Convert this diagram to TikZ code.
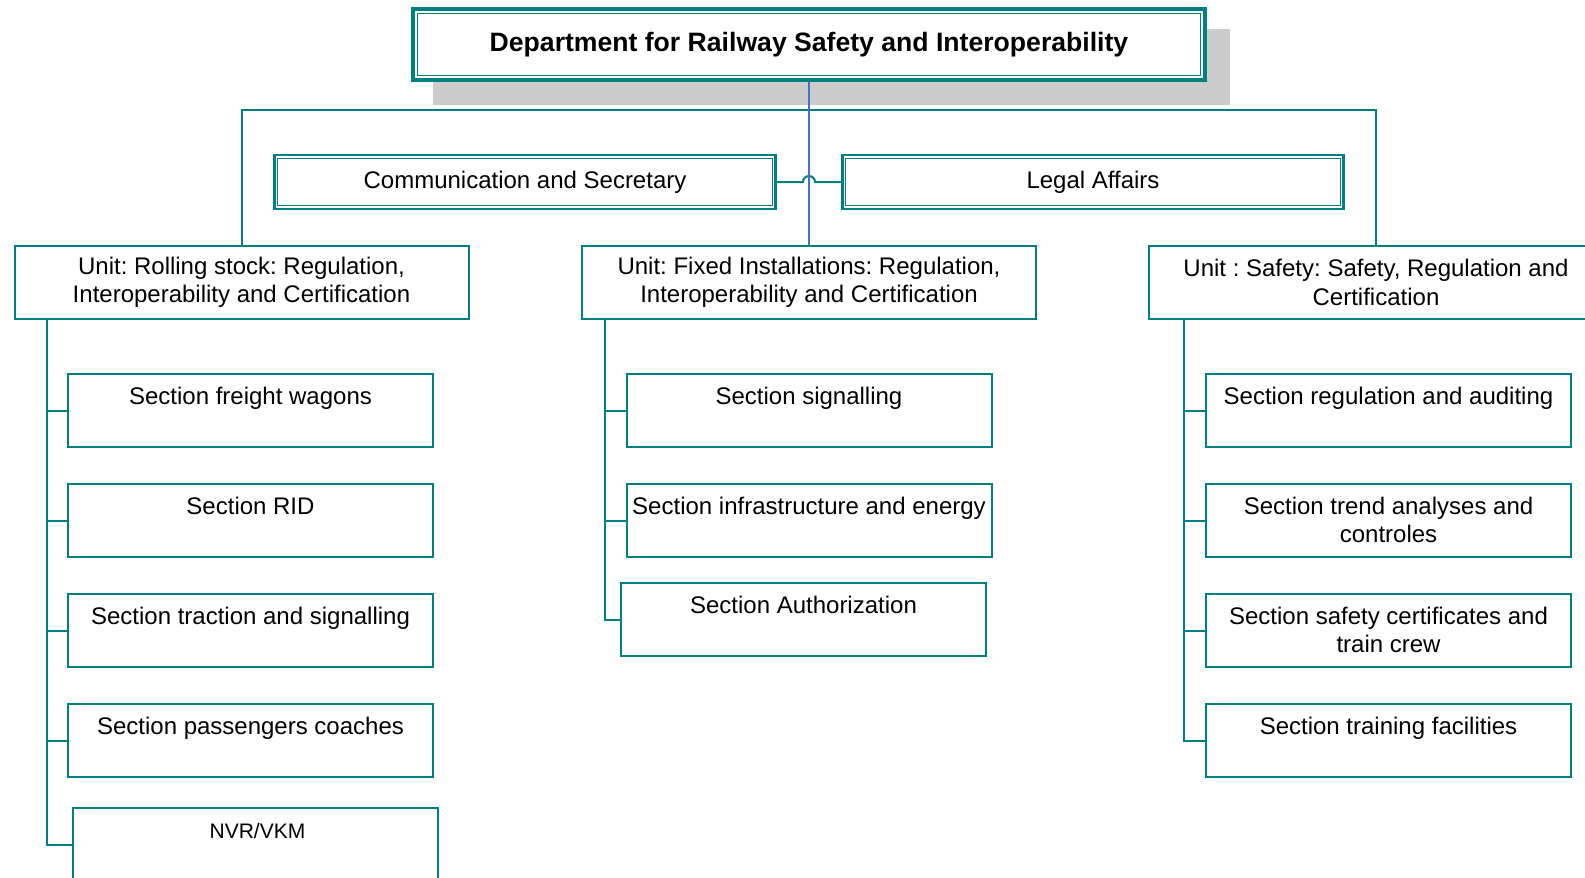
\documentclass[tikz,border=0pt]{standalone}
\usepackage{fontspec}
\setmainfont{Liberation Sans}
\usetikzlibrary{positioning,calc}
\definecolor{linkblue}{RGB}{68,114,196}
\frenchspacing

\begin{document}
\begin{tikzpicture}[x=0.5pt,y=-0.5pt,
    box/.style={draw=teal,line width=1pt,fill=white,inner sep=0pt},
    unit/.style={box,minimum width=227pt,minimum height=36.5pt,align=center,font=\fontsize{12}{14.2}\selectfont},
    sec/.style={box,minimum width=182.5pt,minimum height=36.5pt},
    sectext/.style={anchor=north,inner sep=0pt,yshift=-6.8pt,align=center,font=\fontsize{12}{14.2}\selectfont},
    staff/.style={draw=teal,line width=1.2pt,fill=white,minimum width=250.5pt,minimum height=27pt,font=\fontsize{12}{14}\selectfont},
    link/.style={teal,line width=1pt}]
    \useasboundingbox (0,0) rectangle (1585,878);
    % Department
    \fill[gray!40] (433,29) rectangle (1230,105);
    \node[draw=teal,line width=2pt,fill=white,minimum width=396pt,minimum height=35.5pt,font=\bfseries\fontsize{13.3}{16}\selectfont] (dept) at (809,44.5) {\raisebox{-1pt}{Department for Railway Safety and Interoperability}};
    \draw[teal,line width=0.8pt] ([shift={(6.5,6.5)}]dept.north west) rectangle ([shift={(-6.5,-6.5)}]dept.south east);
    % Staff
    \node[staff] (comm) at (525,182) {Communication and Secretary};
    \node[staff] (legal) at (1093,182) {Legal Affairs};
    \draw[teal,line width=0.6pt] ([shift={(4.5,4.5)}]comm.north west) rectangle ([shift={(-4.5,-4.5)}]comm.south east);
    \draw[teal,line width=0.6pt] ([shift={(4.5,4.5)}]legal.north west) rectangle ([shift={(-4.5,-4.5)}]legal.south east);
    % Units
    \node[unit] (rolling) at (241.5,282.5) {Unit: Rolling stock: Regulation,\\Interoperability and Certification};
    \node[unit] (fixed) at (809,282.5) {Unit: Fixed Installations: Regulation,\\Interoperability and Certification};
    \node[unit] (safety) at (1376,282.5) {Unit : Safety: Safety, Regulation and\\Certification};
    % Top links
    \coordinate (bar) at (809,110);
    \coordinate (hop) at (803,182);
    \draw[link] (rolling.north) |- (bar) -| (safety.north);
    \draw[link] (comm.east) -- (hop) arc[start angle=180,end angle=0,radius=3pt] -- (legal.west);
    \draw[linkblue,line width=1pt] (dept.south) -- (fixed.north);
    % Spines
    \coordinate (lspine) at (47,319);
    \coordinate (mspine) at (605,319);
    \coordinate (rspine) at (1184,319);
    % Rolling stock sections
    \foreach \n/\y/\t in {rs1/410.5/{Section freight wagons},rs2/520.5/{Section RID},rs3/630.5/{Section traction and signalling},rs4/740.5/{Section passengers coaches}} {
        \node[sec] (\n) at (250.5,\y) {};
        \node[sectext] (t\n) at (\n.north) {\t};
        \draw[link] (\n.west -| lspine) -- (\n.west);
    }
    \node[sec] (nvr) at (255.5,844.5) {};
    \node[sectext,yshift=-1pt,xshift=1pt,font=\fontsize{10.5}{12}\selectfont] (tnvr) at (nvr.north) {NVR/VKM};
    \draw[link] (rolling.south -| lspine) |- (nvr.west);
    % Fixed installations sections
    \foreach \n/\y/\t in {fi1/410.5/{Section signalling},fi2/520.5/{Section infrastructure and energy}} {
        \node[sec] (\n) at (809,\y) {};
        \node[sectext] (t\n) at (\n.north) {\t};
        \draw[link] (\n.west -| mspine) -- (\n.west);
    }
    \node[sec] (auth) at (803.5,619.5) {};
    \node[sectext] (tauth) at (auth.north) {Section Authorization};
    \draw[link] (fixed.south -| mspine) |- (auth.west);
    % Safety sections
    \foreach \n/\y/\t in {sa1/410.5/{Section regulation and auditing},sa2/520.5/{Section trend analyses and\\controles},sa3/630.5/{Section safety certificates and\\train crew}} {
        \node[sec] (\n) at (1388.5,\y) {};
        \node[sectext] (t\n) at (\n.north) {\t};
        \draw[link] (\n.west -| rspine) -- (\n.west);
    }
    \node[sec] (sa4) at (1388.5,740.5) {};
    \node[sectext] (tsa4) at (sa4.north) {Section training facilities};
    \draw[link] (safety.south -| rspine) |- (sa4.west);
\end{tikzpicture}
\end{document}
